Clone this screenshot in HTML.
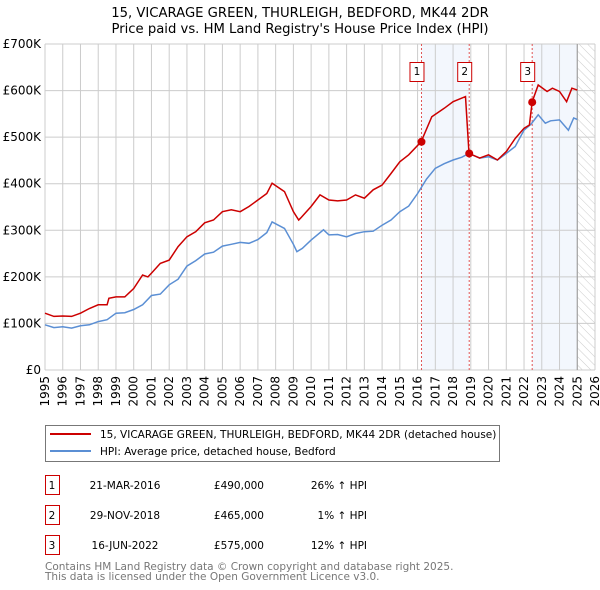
<!DOCTYPE html>
<html><head><meta charset="utf-8"><style>
body{margin:0;background:#fff;}
svg{display:block;font-family:"DejaVu Sans","Liberation Sans",sans-serif;}
</style></head><body>
<svg id="chart" width="600" height="590" viewBox="0 0 600 590">
<text x="300" y="17" text-anchor="middle" font-size="13.2">15, VICARAGE GREEN, THURLEIGH, BEDFORD, MK44 2DR</text>
<text x="300" y="33" text-anchor="middle" font-size="13.2">Price paid vs. HM Land Registry's House Price Index (HPI)</text>
<defs><pattern id="hatch" width="6" height="6" patternUnits="userSpaceOnUse" patternTransform="rotate(-45)"><line x1="0" y1="0" x2="0" y2="6" stroke="#ccc" stroke-width="1"/></pattern></defs>
<g id="bg"></g><g id="grid"></g><g id="axes"></g><g id="series"></g><g id="markers"></g>
<g>
<rect x="45.5" y="425.5" width="454" height="36" fill="#fff" stroke="#777"/>
<line x1="50" y1="434" x2="91" y2="434" stroke="#cc0000" stroke-width="2"/>
<text x="100" y="438" font-size="10.5">15, VICARAGE GREEN, THURLEIGH, BEDFORD, MK44 2DR (detached house)</text>
<line x1="50" y1="451" x2="91" y2="451" stroke="#5b8fd4" stroke-width="2"/>
<text x="100" y="455" font-size="10.5">HPI: Average price, detached house, Bedford</text>
</g>
<g id="table" font-size="10.5"></g>
<text x="45" y="570" font-size="10.5" fill="#777">Contains HM Land Registry data © Crown copyright and database right 2025.</text>
<text x="45" y="580" font-size="10.5" fill="#777">This data is licensed under the Open Government Licence v3.0.</text>
</svg>
<script>
const hpiYears=[1995,1995.5,1996,1996.5,1997,1997.5,1998,1998.5,1999,1999.5,2000,2000.5,2001,2001.5,2002,2002.5,2003,2003.5,2004,2004.5,2005,2005.5,2006,2006.5,2007,2007.5,2007.8,2008.5,2009,2009.2,2009.5,2010,2010.7,2011,2011.5,2012,2012.5,2013,2013.5,2014,2014.5,2015,2015.5,2016,2016.5,2017,2017.5,2018,2018.5,2018.9,2019.5,2020,2020.5,2021,2021.5,2022,2022.4,2022.8,2023.2,2023.5,2024,2024.5,2024.8,2025];
const hpiValues=[97,91,93,90,95,97,104,108,122,123,130,140,160,163,183,195,223,235,249,253,266,270,274,272,280,295,318,304,270,254,261,279,301,290,291,286,293,297,298,311,322,340,352,379,410,433,443,451,457,465,455,458,451,465,480,515,528,548,530,535,537,515,541,538];
const priceYears=[1995,1995.5,1996,1996.5,1997,1997.5,1998,1998.5,1998.6,1999,1999.5,2000,2000.5,2000.8,2001,2001.5,2002,2002.5,2003,2003.5,2004,2004.5,2005,2005.5,2006,2006.5,2007,2007.5,2007.8,2008.5,2009,2009.3,2009.4,2010,2010.5,2011,2011.5,2012,2012.5,2013,2013.5,2014,2014.5,2015,2015.5,2016.2,2016.8,2017.5,2018,2018.7,2018.9,2019.5,2020,2020.5,2021,2021.5,2022,2022.3,2022.46,2022.8,2023.3,2023.6,2024,2024.4,2024.7,2025];
const priceValues=[122,115,116,115,122,132,140,140,154,157,157,175,204,200,208,229,236,265,286,297,316,322,340,344,340,351,365,379,401,383,340,322,326,351,376,365,363,365,376,369,387,397,422,447,462,490,544,562,576,587,465,455,462,451,469,497,519,526,576,612,598,605,598,576,605,601];
const saleIds=["1","2","3"];
const saleYears=[2016.22,2018.91,2022.46];
const saleValues=[490,465,575];
const saleDates=["21-MAR-2016","29-NOV-2018","16-JUN-2022"];
const salePrices=["£490,000","£465,000","£575,000"];
const saleDiffs=["26% ↑ HPI","1% ↑ HPI","12% ↑ HPI"];
const yTicks=[0,100,200,300,400,500,600,700];
const yTickLabels=["£0","£100K","£200K","£300K","£400K","£500K","£600K","£700K"];
const xTicks=[1995,1996,1997,1998,1999,2000,2001,2002,2003,2004,2005,2006,2007,2008,2009,2010,2011,2012,2013,2014,2015,2016,2017,2018,2019,2020,2021,2022,2023,2024,2025,2026];

const L=45,R=595,T=44,B=370,X0=1995,X1=2026,YMAX=700;
const x=v=>L+(v-X0)/(X1-X0)*(R-L);
const y=v=>B-v/YMAX*(B-T);
const NS="http://www.w3.org/2000/svg";
function mk(p,tag,at){const e=document.createElementNS(NS,tag);for(const k in at)e.setAttribute(k,at[k]);document.getElementById(p).appendChild(e);return e;}

let s1=mk('bg','rect',{x:x(saleYears[0]),y:T,width:x(saleYears[1])-x(saleYears[0]),height:B-T,fill:'#eef3fc',opacity:0.7});


let s2=mk('bg','rect',{x:x(saleYears[2]),y:T,width:x(2025)-x(saleYears[2]),height:B-T,fill:'#eef3fc',opacity:0.7});


let h=mk('bg','rect',{x:x(2025),y:T,width:R-x(2025),height:B-T,fill:'url(#hatch)'});



yTicks.forEach((t,i)=>{
  let g=mk('grid','line',{x1:L,x2:R,y1:y(t),y2:y(t),stroke:'#ccc'});
  
  
  let tx=mk('axes','text',{x:L-4,y:y(t)+4,'text-anchor':'end','font-size':12});
  tx.textContent=yTickLabels[i];
  
  
});
xTicks.forEach(t=>{
  let g=mk('grid','line',{x1:x(t),x2:x(t),y1:T,y2:B,stroke:'#ccc'});
  
  
  const xx=x(t)+4, yy=B+6;
  let tx=mk('axes','text',{x:xx,y:yy,'text-anchor':'end','font-size':12,transform:'rotate(-90 '+xx+' '+yy+')'});
  tx.textContent=t;
  
  
});
let nl=mk('grid','line',{x1:x(2025),x2:x(2025),y1:T,y2:B,stroke:'#999'});



saleYears.forEach((yr,i)=>{
  let v=mk('grid','line',{x1:x(yr),x2:x(yr),y1:T,y2:B,stroke:'#e05555','stroke-dasharray':'2,2'});
  
  
});

function path(xs,vs){return xs.map((a,i)=>(i?'L':'M')+x(a).toFixed(1)+','+y(vs[i]).toFixed(1)).join('');}
let hp=mk('series','path',{d:path(hpiYears,hpiValues),fill:'none',stroke:'#5b8fd4','stroke-width':1.5});


let pp=mk('series','path',{d:path(priceYears,priceValues),fill:'none',stroke:'#cc0000','stroke-width':1.5});



saleYears.forEach((yr,i)=>{
  let c=mk('markers','circle',{cx:x(yr),cy:y(saleValues[i]),r:4,fill:'#cc0000'});
  
  
  let bx=mk('markers','rect',{x:x(yr)-11.5,y:62.5,width:14,height:19,fill:'#fff',stroke:'#cc0000'});
  
  
  let bt=mk('markers','text',{x:x(yr)-4.5,y:75,'text-anchor':'middle','font-size':10.5});
  bt.textContent=saleIds[i];
  
  
});

saleIds.forEach((id,i)=>{
  const ry=475+i*30;
  let b=mk('table','rect',{x:45.5,y:ry+0.5,width:14,height:19,fill:'#fff',stroke:'#cc0000'});
  
  
  const cells=[[52,id,'middle'],[125,saleDates[i],'middle'],[264,salePrices[i],'end'],[367,saleDiffs[i],'end']];
  cells.forEach(c=>{
    let t=mk('table','text',{x:c[0],y:ry+14,'text-anchor':c[2]});
    t.textContent=c[1];
    
    
  });
});
</script>
</body></html>
